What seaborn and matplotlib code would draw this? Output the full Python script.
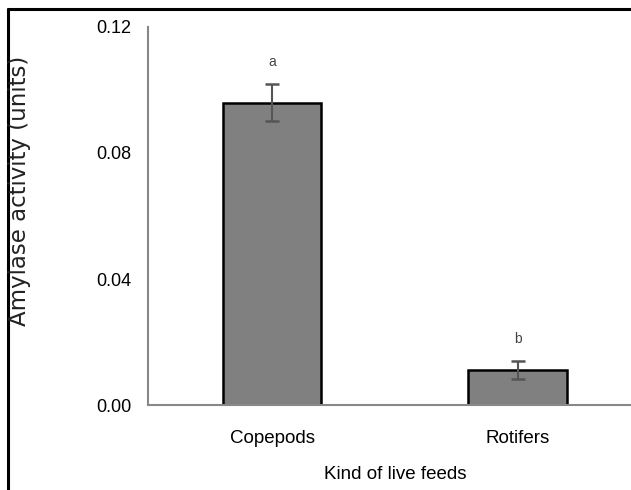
import matplotlib
matplotlib.use("Agg")
import matplotlib.pyplot as plt
import seaborn as sns
import pandas as pd
from matplotlib.lines import Line2D

# --- data ---
feeds = ["Copepods", "Rotifers"]
amylase = [0.0960, 0.0111]
sem = [0.0060, 0.0029]
letters = ["a", "b"]
yticks = [0.00, 0.04, 0.08, 0.12]

df = pd.DataFrame({"feed": feeds, "amylase": amylase})

sns.set_style("white")
plt.rcParams["font.family"] = ["Liberation Sans", "DejaVu Sans"]

fig = plt.figure(figsize=(6.31, 4.90), dpi=100)
ax = fig.add_axes([148 / 631, 85 / 490, 483 / 631, 378 / 490])

sns.barplot(data=df, x="feed", y="amylase", color="#808080", saturation=1,
            width=0.4, edgecolor="black", linewidth=1.8, errorbar=None, ax=ax)

ax.errorbar(range(len(feeds)), amylase, yerr=sem, fmt="none",
            ecolor="#555555", elinewidth=1.5, capsize=5, capthick=1.8, zorder=5)

for i, (m, e, t) in enumerate(zip(amylase, sem, letters)):
    ax.text(i, m + e + 0.0068, t, ha="center", va="center",
            fontsize=10, color="#444444")

ax.set_xlim(-0.505, 1.462)
ax.set_ylim(0, 0.12)
ax.set_yticks(yticks)
ax.set_yticklabels([f"{v:.2f}" for v in yticks])

# single tick between the two categories, pointing up
ax.set_xticks([0.5], minor=True)
ax.tick_params(axis="x", which="minor", direction="in", length=8,
               width=1.2, color="#888888")
ax.tick_params(axis="x", which="major", length=0, pad=18, labelsize=13.5,
               labelcolor="black")
ax.tick_params(axis="y", which="major", direction="out", length=5,
               width=1.2, color="#888888", pad=7, labelsize=13,
               labelcolor="black")

for s in ["top", "right"]:
    ax.spines[s].set_visible(False)
for s in ["left", "bottom"]:
    ax.spines[s].set_color("#888888")
    ax.spines[s].set_linewidth(1.5)

ax.set_xlabel("Kind of live feeds", fontsize=13.5, color="black")
ax.xaxis.set_label_coords((395 - 148) / 483, -(466 - 405) / 378)
ax.set_ylabel("")

fig.text(20 / 631, 1 - 191 / 490, "Amylase activity (units)", rotation=90,
         ha="center", va="center", fontsize=16.5, family="DejaVu Sans",
         color="#222222")

# outer frame of the original figure (left and top edges only visible)
fx = 8 / 631
fy = 1 - 9 / 490
fig.add_artist(Line2D([fx, fx], [0, fy], color="black", lw=2.2,
                      transform=fig.transFigure))
fig.add_artist(Line2D([fx, 1], [fy, fy], color="black", lw=2.2,
                      transform=fig.transFigure))

fig.savefig("out.png", dpi=100)
